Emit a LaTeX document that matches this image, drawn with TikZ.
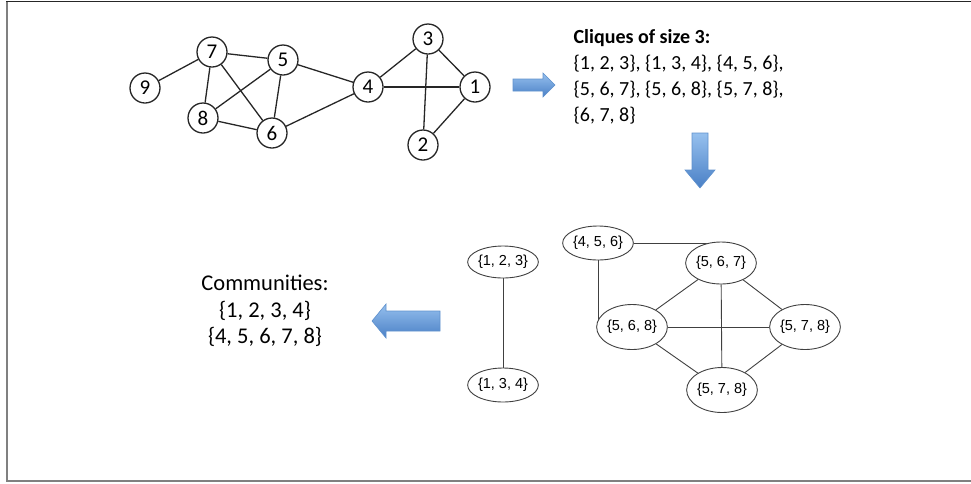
\documentclass[tikz,border=0pt]{standalone}
\usepackage{fontspec}
\setmainfont{Carlito}
\newfontfamily\arialfont{Liberation Sans}
\usepackage{tikz}
\usetikzlibrary{shapes.geometric,backgrounds}

\definecolor{arrowtop}{RGB}{150,192,238}
\definecolor{arrowbot}{RGB}{74,128,198}
\definecolor{arrowline}{RGB}{95,145,205}

\begin{document}
\begin{tikzpicture}[x=1pt,y=-1pt,semithick]

        \tikzstyle{vertex}=[circle,draw=black!85,fill=white,minimum size=30pt,inner sep=0pt,line width=1.3pt,font=\fontsize{21}{21}\selectfont]
        \tikzstyle{clique}=[ellipse,draw=black!75,fill=white,minimum width=68pt,minimum height=42pt,inner sep=0pt,line width=0.9pt,font=\arialfont\fontsize{14.5}{14.5}\selectfont]
        \tikzstyle{blockarrow}=[top color=arrowtop,bottom color=arrowbot,draw=arrowline,line width=0.6pt]

        \useasboundingbox (0,0) rectangle (971,483);
        \draw[black!50,line width=2pt] (7,1.5) -- (7,481) -- (971,481);
        \draw[black!85,line width=1.5pt] (6,1.5) -- (971,1.5);

        % graph
        \node[vertex] (9) at (145,88)  {9};
        \node[vertex] (7) at (212,52)  {7};
        \node[vertex] (5) at (283,60)  {5};
        \node[vertex] (8) at (203,118) {8};
        \node[vertex] (6) at (272,133) {6};
        \node[vertex] (4) at (368,87)  {4};
        \node[vertex] (3) at (428,39)  {3};
        \node[vertex] (1) at (475,87)  {1};
        \node[vertex] (2) at (423,145) {2};

        \path[draw=black!85,line width=1.3pt]
        (9) edge (7)
        (7) edge (5)
        (7) edge (8)
        (7) edge (6)
        (5) edge (8)
        (5) edge (6)
        (5) edge (4)
        (8) edge (6)
        (6) edge (4)
        (4) edge (3)
        (4) edge (1)
        (3) edge (1)
        (3) edge (2)
        (1) edge (2)
        ;

        % cliques
        \node[anchor=west,align=left,font=\fontsize{20}{26}\selectfont] (list) at (570,77)
             {\textbf{Cliques of size 3:}\\
              \{1, 2, 3\}, \{1, 3, 4\}, \{4, 5, 6\},\\
              \{5, 6, 7\}, \{5, 6, 8\}, \{5, 7, 8\},\\
              \{6, 7, 8\}};

        \node[align=center,font=\fontsize{22.5}{26.5}\selectfont] (comm) at (265,311)
             {Communities:\\ \{1, 2, 3, 4\}\\ \{4, 5, 6, 7, 8\}};

        % arrows
        \shade[blockarrow] (513,79) -- (543,79) -- (543,73) -- (555,85) -- (543,97) -- (543,91) -- (513,91) -- cycle;
        \shade[blockarrow] (692,133) -- (708,133) -- (708,170) -- (715,170) -- (700,188) -- (685,170) -- (692,170) -- cycle;
        \shade[blockarrow] (440,311) -- (386,311) -- (386,304) -- (372,321) -- (386,338) -- (386,331) -- (440,331) -- cycle;

        % clique graph
        \node[clique,minimum height=32pt] (c123) at (503,262) {\{1, 2, 3\}};
        \node[clique,minimum height=34pt] (c134) at (503,385) {\{1, 3, 4\}};
        \node[clique,minimum height=34pt] (c456) at (598,243) {\{4, 5, 6\}};
        \node[clique]                     (c567) at (721,263) {\{5, 6, 7\}};
        \node[clique,minimum height=45pt] (c568) at (632,327) {\{5, 6, 8\}};
        \node[clique,minimum height=45pt] (c578) at (805,327) {\{5, 7, 8\}};
        \node[clique,minimum height=45pt] (c587) at (722,390) {\{5, 7, 8\}};

        \begin{scope}[on background layer]
        \path[draw=black!75,line width=0.9pt]
        (c123) edge (c134)
        (c456) edge (c456 -| c567)
        (c456) edge (c456 |- c568)
        (c567) edge (c568)
        (c567) edge (c578)
        (c567) edge (c587)
        (c568) edge (c578)
        (c568) edge (c587)
        (c578) edge (c587)
        ;
        \end{scope}
\end{tikzpicture}
\end{document}
